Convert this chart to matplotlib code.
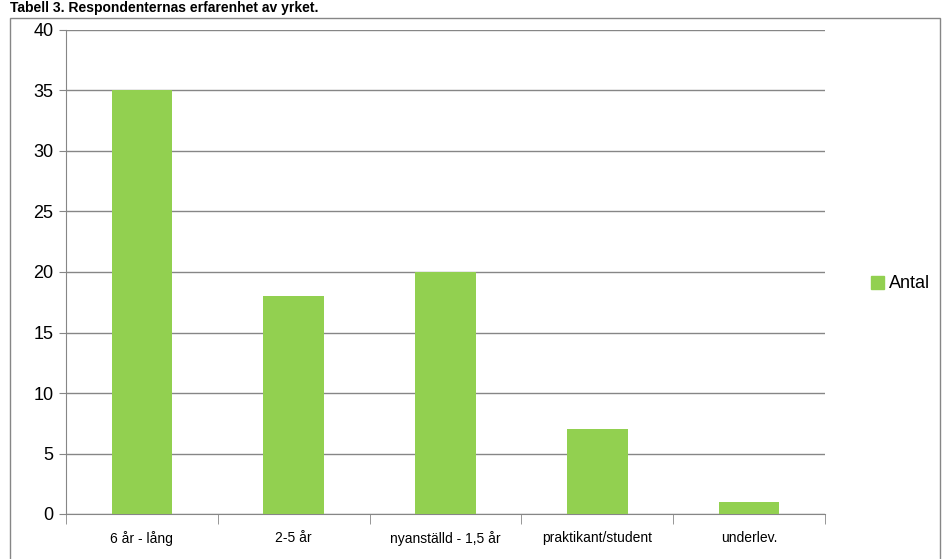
import matplotlib
matplotlib.use("Agg")
import matplotlib.pyplot as plt
from matplotlib.patches import Rectangle, Patch
import numpy as np

categories = ["6 år - lång", "2-5 år", "nyanställd - 1,5 år", "praktikant/student", "underlev."]
values = [35, 18, 20, 7, 1]
series_name = "Antal"
yticks = [0, 5, 10, 15, 20, 25, 30, 35, 40]
title = "Tabell 3. Respondenternas erfarenhet av yrket."

plt.rcParams['font.family'] = ['Liberation Sans', 'DejaVu Sans']

W, H = 942, 559
fig = plt.figure(figsize=(W/100, H/100), dpi=100)

# outer chart border
fig.patches.append(Rectangle((10/W, -0.05), 930/W, 1 - 18/H + 0.05, transform=fig.transFigure,
                             fill=False, edgecolor='#868686', linewidth=1.0))
# title above chart
fig.text(10/W, 1 - 8/H, title, fontsize=10, fontweight='bold', va='center', ha='left')

ax = fig.add_axes([66/W, 1 - 514/H, (825-66)/W, (514-30)/H])
x = np.arange(len(categories))
ax.bar(x, values, width=0.4, color='#92D050', label=series_name, zorder=3)
ax.set_xlim(-0.5, len(categories) - 0.5)
ax.set_ylim(0, 40)
ax.set_yticks(yticks)
ax.set_yticklabels([str(t) for t in yticks], fontsize=13)
ax.yaxis.grid(True, color='#868686', linewidth=1.0, zorder=0)
ax.set_xticks(x)
ax.set_xticklabels(categories, fontsize=10)
ax.tick_params(axis='x', length=0, pad=12)
ax.set_xticks(np.arange(len(categories)+1) - 0.5, minor=True)
ax.tick_params(axis='x', which='minor', length=7, color='#868686')
ax.tick_params(axis='y', length=5, color='#868686', pad=4)
for s in ['top', 'right']:
    ax.spines[s].set_visible(False)
for s in ['left', 'bottom']:
    ax.spines[s].set_color('#868686')

fig.legend(handles=[Patch(color='#92D050', label=series_name)], loc='center left',
           bbox_to_anchor=(855/W, 1 - 284/H), frameon=False, fontsize=13,
           handlelength=0.7, handleheight=0.7, handletextpad=0.3)

fig.savefig("out.png", dpi=100)
